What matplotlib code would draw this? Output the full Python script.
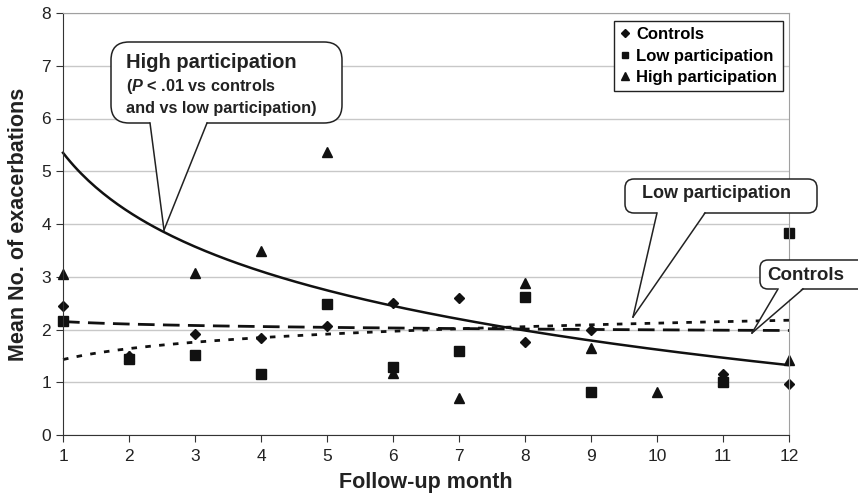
import numpy as np
import matplotlib
matplotlib.use("Agg")
import matplotlib.pyplot as plt
from matplotlib.patches import FancyBboxPatch, Polygon
from matplotlib.transforms import Affine2D

plt.rcParams['font.family'] = ['Liberation Sans', 'DejaVu Sans']
plt.rcParams['mathtext.fontset'] = 'custom'
plt.rcParams['mathtext.rm'] = 'Liberation Sans'
plt.rcParams['mathtext.it'] = 'Liberation Sans:italic'
plt.rcParams['mathtext.bf'] = 'Liberation Sans:bold'
plt.rcParams['mathtext.bfit'] = 'Liberation Sans:italic:bold'

W, H = 858, 499

# data
months = np.arange(1, 13)
controls = [2.45, 1.50, 1.91, 1.84, 2.07, 2.51, 2.60, 1.76, 2.00, np.nan, 1.16, 0.96]
low_part = [2.16, 1.44, 1.52, 1.16, 2.49, 1.28, 1.59, 2.61, 0.81, np.nan, 1.00, 3.82]
high_part = [3.05, 1.50, 3.07, 3.49, 5.37, 1.18, 0.70, 2.88, 1.64, 0.81, 1.02, 1.42]

# logarithmic trend lines (y = a + b ln x), coefficients
trend_high = (5.35, -1.62)
trend_low = (1.43, 0.30)
trend_ctrl = (2.15, -0.068)

fig = plt.figure(figsize=(W / 100, H / 100), dpi=100)
ax = fig.add_axes([63 / W, 1 - 435 / H, (789 - 63) / W, (435 - 13) / H])

ax.set_xlim(1, 12)
ax.set_ylim(0, 8)
ax.set_xticks(months)
ax.set_yticks(range(9))
ax.grid(axis='y', color='#c8c8c8', lw=1)
ax.set_axisbelow(True)
for s in ['top', 'right']:
    ax.spines[s].set_color('#a0a0a0')
for s in ['left', 'bottom']:
    ax.spines[s].set_color('#333333')
ax.tick_params(direction='out', length=5, color='#333333', labelsize=12.5, labelcolor='#222222')
ax.tick_params(axis='x', pad=5)

xs = np.linspace(1, 12, 200)
ax.plot(xs, trend_high[0] + trend_high[1] * np.log(xs), color='#111111', lw=1.8, clip_on=False)
ax.plot(xs, trend_low[0] + trend_low[1] * np.log(xs), color='#111111', lw=2, ls=(0, (2, 3)), clip_on=False)
ax.plot(xs, trend_ctrl[0] + trend_ctrl[1] * np.log(xs), color='#111111', lw=2, ls=(0, (6, 3)), clip_on=False)

ax.plot(months, controls, 'D', color='#111111', ms=5.5, ls='none', label='Controls', clip_on=False)
ax.plot(months, low_part, 's', color='#111111', ms=6.5, ls='none', label='Low participation', clip_on=False)
ax.plot(months, high_part, '^', color='#111111', ms=7.5, ls='none', label='High participation', clip_on=False)

leg = ax.legend(loc='upper right', bbox_to_anchor=(783 / W, 1 - 21 / H), bbox_transform=fig.transFigure,
                frameon=True, fancybox=False, edgecolor='#222222', framealpha=1,
                prop={'weight': 'bold', 'size': 12}, handlelength=0.7, handletextpad=0.3,
                labelspacing=0.4, borderpad=0.35, borderaxespad=0, markerscale=0.75)
leg.get_frame().set_linewidth(1)

ax.set_xlabel('Follow-up month', fontsize=15.5, fontweight='bold', labelpad=6, color='#222222')
ax.set_ylabel('Mean No. of exacerbations', fontsize=15.5, fontweight='bold', labelpad=9, color='#222222')

# callouts, drawn in pixel coordinates measured from the top-left corner
T = Affine2D().scale(1, -1).translate(0, H)


def callout(x0, y0, x1, y1, base, tip, r):
    box = FancyBboxPatch((x0, y0), x1 - x0, y1 - y0, boxstyle=f"round,pad=0,rounding_size={r}",
                         transform=T, facecolor='white', edgecolor='#222222', lw=1.1,
                         zorder=5, clip_on=False)
    fig.add_artist(box)
    wedge = Polygon([(base[0], y1 - 1.5), (base[1], y1 - 1.5), tip], closed=True, transform=T,
                    facecolor='white', edgecolor='none', zorder=6, clip_on=False)
    fig.add_artist(wedge)
    for bx in base:
        fig.add_artist(plt.Line2D([bx, tip[0]], [y1, tip[1]], transform=T, color='#222222',
                                  lw=1.1, zorder=7, clip_on=False))


callout(111, 42, 342, 123, (150, 207), (164, 230), 18)
fig.text(126, 63, 'High participation', transform=T, fontsize=14.5, fontweight='bold',
         va='center', ha='left', color='#222222', zorder=8)
fig.text(126, 86, r'($\bfit{P}$ < .01 vs controls', transform=T, fontsize=11.7, fontweight='bold',
         va='center', ha='left', color='#222222', zorder=8)
fig.text(126, 108, 'and vs low participation)', transform=T, fontsize=11.7, fontweight='bold',
         va='center', ha='left', color='#222222', zorder=8)

callout(625, 179, 817, 213, (657, 705), (633, 317), 9)
fig.text(716, 194, 'Low participation', transform=T, fontsize=13, fontweight='bold',
         va='center', ha='center', color='#222222', zorder=8)

callout(760, 260, 875, 289, (778, 803), (752, 333), 8)
fig.text(806, 275, 'Controls', transform=T, fontsize=13.5, fontweight='bold',
         va='center', ha='center', color='#222222', zorder=8)

fig.savefig('out.png', dpi=100)
